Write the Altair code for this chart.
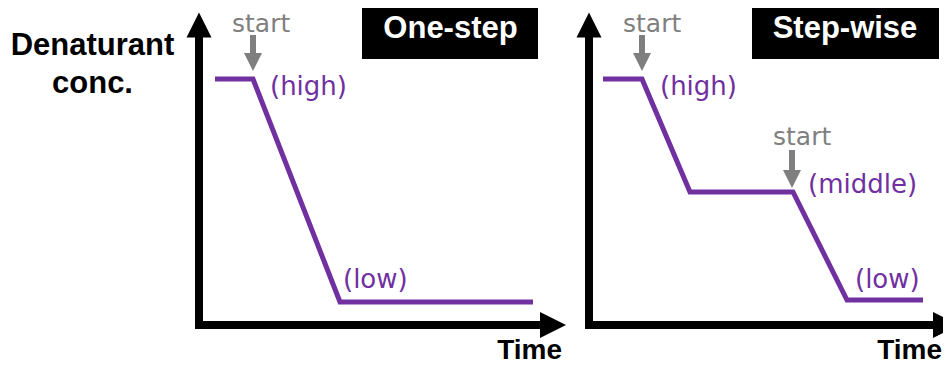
import altair as alt
import pandas as pd

# ---------------- data (diagram units: time from the y-axis, concentration from the x-axis) ----------------
panels = ["One-step", "Step-wise"]
panel_offset = [0, 390]          # horizontal shift of each panel's origin

onestep_time = [16, 54, 141, 334]
onestep_conc = [246, 246, 23, 23]
stepwise_time = [14, 53, 101, 204, 258, 334]
stepwise_conc = [246, 246, 133, 133, 25, 25]

level_panel = ["One-step", "One-step", "Step-wise", "Step-wise", "Step-wise"]
level_text = ["(high)", "(low)", "(high)", "(middle)", "(low)"]
level_time = [71, 144, 71, 219, 266]
level_conc = [230, 37, 230, 132, 37]

start_panel = ["One-step", "Step-wise", "Step-wise"]
start_time = [54, 53, 203]        # where the gray arrow points
start_conc = [263, 263, 146]      # arrow-head centre
start_shaft_len = [19, 19, 21]
start_text_time = [33, 34, 184]
start_text_conc = [293, 293, 180]

axis_time_len = [341, 344]
axis_conc_len = [288, 288]

x_label = "Time"
x_label_time = [363, 353]
y_label = ["Denaturant", "conc."]

# ---------------- helpers ----------------
off = dict(zip(panels, panel_offset))
PURPLE = "#7030A0"
GRAY = "#7F7F7F"

xs = alt.Scale(domain=[-191, 744], nice=False, zero=False)
ys = alt.Scale(domain=[-40, 317], nice=False, zero=False)


def X(f="x"):
    return alt.X(f"{f}:Q", scale=xs, axis=None)


def Y(f="y"):
    return alt.Y(f"{f}:Q", scale=ys, axis=None)


rows = []
for p, ts, cs in [("One-step", onestep_time, onestep_conc), ("Step-wise", stepwise_time, stepwise_conc)]:
    for i, (t, c) in enumerate(zip(ts, cs)):
        rows.append({"panel": p, "i": i, "x": t + off[p], "y": c})
profile = pd.DataFrame(rows)

shaft_rows, up_rows, right_rows = [], [], []
for p, lt, lc in zip(panels, axis_time_len, axis_conc_len):
    o = off[p]
    shaft_rows.append({"x": o, "x2": o, "y": 0, "y2": lc})
    shaft_rows.append({"x": o, "x2": o + lt, "y": 0, "y2": 0})
    up_rows.append({"x": o, "y": lc + 12})
    right_rows.append({"x": o + lt + 13, "y": 0})
shafts = pd.DataFrame(shaft_rows)
ups = pd.DataFrame(up_rows)
rights = pd.DataFrame(right_rows)

start_df = pd.DataFrame({
    "x": [t + off[p] for p, t in zip(start_panel, start_time)],
    "y": start_conc,
    "ys1": [c + 8 + L for c, L in zip(start_conc, start_shaft_len)],
    "ys2": [c + 8 for c in start_conc],
    "tx": [t + off[p] for p, t in zip(start_panel, start_text_time)],
    "ty": start_text_conc,
    "label": ["start"] * len(start_panel),
})

levels = pd.DataFrame({
    "x": [t + off[p] for p, t in zip(level_panel, level_time)],
    "y": level_conc,
    "label": level_text,
})

boxes = pd.DataFrame({
    "x": [163, 553], "x2": [339, 740], "y": [266, 266], "y2": [330, 330],
    "tx": [251.5, 646], "ty": [287, 287], "label": panels,
})

xlab = pd.DataFrame({"x": [t + o for t, o in zip(x_label_time, panel_offset)], "y": [-34, -34],
                     "label": [x_label] * 2})
ylab = pd.DataFrame({"x": [-106.5, -106.5], "y": [270, 232], "label": y_label})

# ---------------- layers ----------------
axis_shafts = alt.Chart(shafts).mark_rule(color="black", strokeWidth=8, strokeCap="square").encode(
    x=X(), x2="x2:Q", y=Y(), y2="y2:Q")
up_heads = alt.Chart(ups).mark_point(shape="M-1,1L0,-1L1,1Z", filled=True, size=625, color="black",
                                     opacity=1, strokeWidth=0).encode(x=X(), y=Y())
right_heads = alt.Chart(rights).mark_point(shape="M-1,-1L1,0L-1,1Z", filled=True, size=676, color="black",
                                           opacity=1, strokeWidth=0).encode(x=X(), y=Y())

lines = alt.Chart(profile).mark_line(color=PURPLE, strokeWidth=5, strokeJoin="miter").encode(
    x=X(), y=Y(), detail="panel:N", order="i:Q")

start_shaft = alt.Chart(start_df).mark_rule(color=GRAY, strokeWidth=6).encode(
    x=X(), y=Y("ys1"), y2="ys2:Q")
start_head = alt.Chart(start_df).mark_point(shape="M-1,-1L1,-1L0,1Z", filled=True, size=324, color=GRAY,
                                            opacity=1, strokeWidth=0).encode(x=X(), y=Y())
start_txt = alt.Chart(start_df).mark_text(font="DejaVu Sans", fontSize=25, color=GRAY, align="left",
                                          baseline="alphabetic").encode(x=X("tx"), y=Y("ty"), text="label:N")

level_txt = alt.Chart(levels).mark_text(font="DejaVu Sans", fontSize=26, color=PURPLE, align="left",
                                        baseline="alphabetic").encode(x=X(), y=Y(), text="label:N")

box_rect = alt.Chart(boxes).mark_rect(color="black").encode(x=X(), x2="x2:Q", y=Y(), y2="y2:Q")
box_txt = alt.Chart(boxes).mark_text(font="Liberation Sans", fontWeight="bold", fontSize=31, color="white",
                                     align="center", baseline="alphabetic").encode(
    x=X("tx"), y=Y("ty"), text="label:N")

xlab_txt = alt.Chart(xlab).mark_text(font="Liberation Sans", fontWeight="bold", fontSize=28, color="black",
                                     align="right", baseline="alphabetic").encode(x=X(), y=Y(), text="label:N")
ylab_txt = alt.Chart(ylab).mark_text(font="Liberation Sans", fontWeight="bold", fontSize=31, color="black",
                                     align="center", baseline="alphabetic").encode(x=X(), y=Y(), text="label:N")

chart = alt.layer(
    box_rect, box_txt, axis_shafts, up_heads, right_heads, lines,
    start_shaft, start_head, start_txt, level_txt, xlab_txt, ylab_txt,
).properties(
    width=935, height=357, padding=0,
    autosize=alt.AutoSizeParams(type="none"),
).configure_view(stroke=None)

chart.save("out.html", embed_options={"renderer": "svg", "actions": False})
